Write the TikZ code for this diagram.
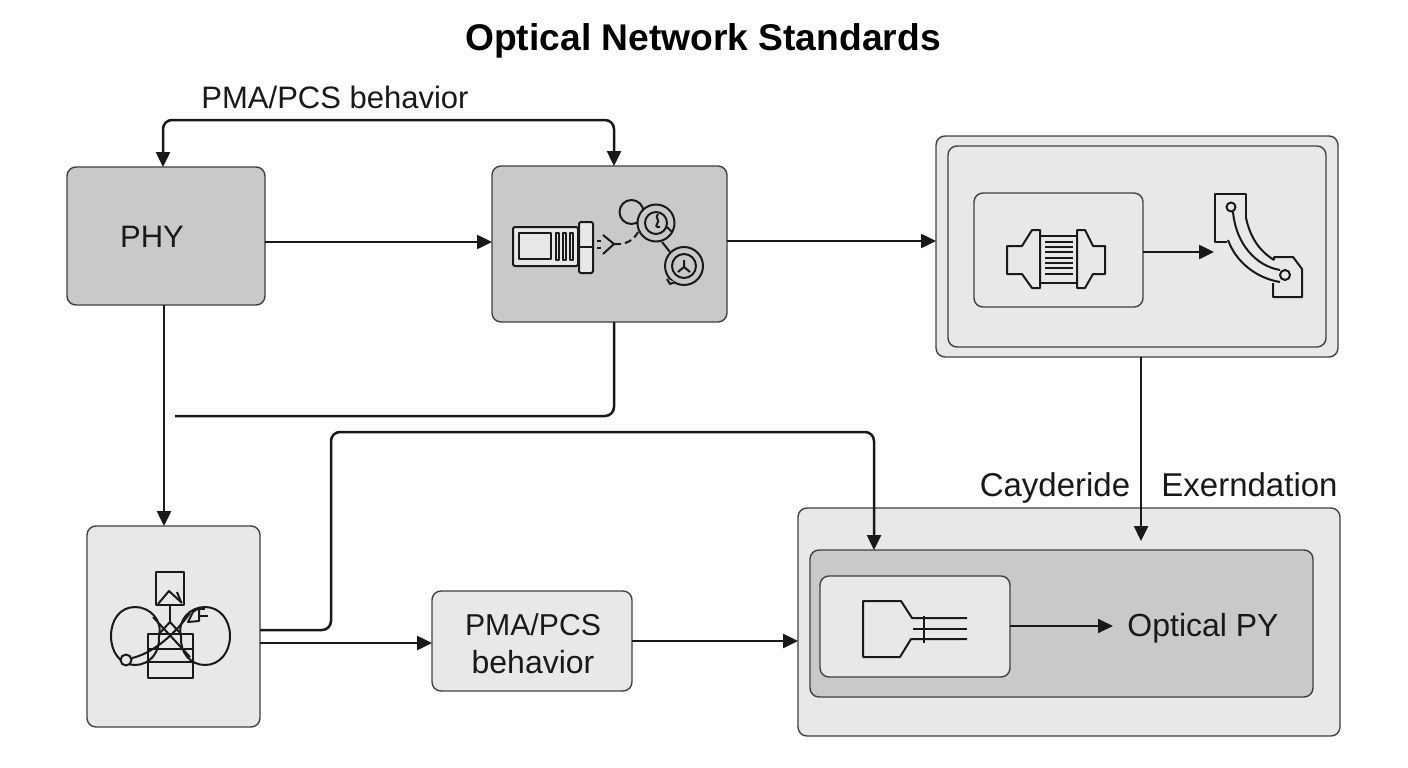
\documentclass[tikz,border=0pt]{standalone}
\usepackage{fontspec}
\setmainfont{Liberation Sans}
\usetikzlibrary{arrows.meta}
\tikzset{
  x=1pt,y=-1pt,
  box/.style={draw=black!75,line width=1.4pt,rounded corners=9pt,inner sep=0pt,outer sep=0pt,anchor=north west},
  darkbox/.style={box,fill=black!21},
  lightbox/.style={box,fill=black!9},
  conn/.style={draw=black!90,line width=2.5pt,rounded corners=9pt,-{Triangle[length=15pt,width=14pt]}},
  bothconn/.style={conn,{Triangle[length=15pt,width=14pt]}-{Triangle[length=15pt,width=14pt]}},
  plain/.style={draw=black!90,line width=2.5pt,rounded corners=9pt},
  ico/.style={draw=black!90,line width=2pt,line join=round},
  lab/.style={font=\fontsize{31}{35}\selectfont,inner sep=0pt,text=black!90,anchor=base},
}
\newcommand{\bx}[6]{\node[#1,minimum width=#4pt,minimum height=#5pt] (#6) at (#2,#3) {};}
\begin{document}
\begin{tikzpicture}
\useasboundingbox (0,0) rectangle (1408,768);
\node[font=\bfseries\fontsize{37.2}{40}\selectfont,inner sep=0pt,anchor=base] (title) at (703,51) {Optical Network Standards};
\bx{darkbox}{67}{167}{198}{138}{phy}
\bx{darkbox}{492}{166}{235}{156}{gear}
\bx{lightbox}{936}{136}{402}{221}{ro}
\bx{lightbox}{948}{146}{378}{201}{ri}
\bx{lightbox}{974}{193}{169}{114}{rs}
\bx{lightbox}{87}{526}{173}{201}{bl}
\bx{lightbox}{432}{591}{200}{100}{pma}
\bx{lightbox}{798}{508}{542}{228}{bo}
\bx{darkbox}{810}{550}{503}{147}{bi}
\bx{lightbox}{820}{576}{190}{101}{bs}
\node[lab] (phyt) at (152,247) {PHY};
\node[lab] (toplab) at (335,108) {PMA/PCS behavior};
\node[lab,font=\fontsize{30.2}{35}\selectfont] (pmat) at (533,635) {PMA/PCS};
\node[lab,font=\fontsize{32}{35}\selectfont] (pmat2) at (533,673) {behavior};
\node[lab,font=\fontsize{33}{35}\selectfont] (cay) at (1055,496) {Cayderide};
\node[lab,font=\fontsize{33}{35}\selectfont] (exe) at (1249.5,496) {Exerndation};
\node[lab,font=\fontsize{32}{35}\selectfont] (opt) at (1203,636) {Optical PY};
\coordinate (free) at (175,416);
\coordinate (curvein) at (1214,252);
\coordinate (optin) at (1113,626);
\coordinate (biin) at (1141,541);
% connectors
\draw[bothconn] (phy.north -| 163,0) -- (163,120) -- (614,120) -- (gear.north -| 614,0);
\draw[conn] (phy.east |- 0,242) -- (gear.west |- 0,242);
\draw[conn] (gear.east |- 0,241) -- (ro.west |- 0,241);
\draw[conn] (phy.south -| 164,0) -- (bl.north -| 164,0);
\draw[plain] (gear.south -| 614,0) -- (614,416) -- (free);
\draw[conn] (bl.east |- 0,630) -- (331,630) -- (331,432) -- (874,432) -- (874,550);
\draw[conn] (bl.east |- 0,643) -- (pma.west |- 0,643);
\draw[conn] (pma.east |- 0,641) -- (bo.west |- 0,641);
\draw[conn] (ro.south -| 1141,0) -- (biin);
\draw[conn,line width=1.8pt] (bs.east |- 0,626) -- (optin);
\draw[conn] (rs.east |- 0,252) -- (curvein);
% gear icon
\draw[ico,rounded corners=2pt,fill=black!9] (513,227) rectangle (578,266);
\draw[ico,fill=black!9] (519,233) rectangle (551,259);
\foreach \xa in {556,563,570} \draw[ico,fill=black!9] (\xa,233) rectangle (\xa+2.5,260);
\draw[ico,rounded corners=2pt,fill=black!9] (579,222) rectangle (593,273);
\draw[ico] (579,247) -- (593,247);
\draw[ico] (597,241) -- (601,241) (597,248) -- (601,248);
\draw[ico] (603,235) -- (614,244) -- (603,254);
\draw[ico,dash pattern=on 7pt off 4pt] (614,244) .. controls (626,245) and (634,240) .. (638,232);
\draw[ico] (631.5,212) circle (12);
\draw[ico,fill=black!21] (656,223) circle (18.5);
\draw[ico] (656,223) circle (11);
\draw[ico] (658,214) .. controls (654,218) and (661,220) .. (657,224) .. controls (655,227) and (657,227) .. (660,227);
\draw[ico] (662,242) -- (670,252);
\draw[ico] (667,227) -- (672,232);
\draw[ico,fill=black!21] (684,266) circle (19);
\draw[ico] (684,266) circle (12);
\draw[ico] (684,267) -- (684,260) (684,267) -- (678,272) (684,267) -- (690,272);
\draw[ico,fill=black!21] (667,279) -- (670,284) -- (675,282);
% connector icon
\draw[ico] (1040,230) -- (1032,230) -- (1022,246) -- (1007,246) -- (1007,274) -- (1022,274) -- (1032,288) -- (1040,288) -- cycle;
\draw[ico] (1077,230) -- (1085,230) -- (1093,246) -- (1105,246) -- (1105,274) -- (1093,274) -- (1085,288) -- (1077,288) -- cycle;
\draw[ico] (1040,236) -- (1077,236) (1040,283) -- (1077,283);
\foreach \ya in {242,247,252,258,263,268,274} \draw[ico] (1045,\ya) -- (1073,\ya);
% curved icon
\draw[ico] (1274,260) -- (1274,257) -- (1293,257) -- (1302,269) -- (1302,297) -- (1273,297) -- (1273,283);
\draw[ico] (1227,242) -- (1215,242) -- (1215,194) -- (1246,194) -- (1246,218);
\draw[ico] (1228,240) .. controls (1236,262) and (1256,278) .. (1280,282);
\draw[ico] (1246,218) .. controls (1250,236) and (1258,250) .. (1274,260);
\draw[ico] (1233,212) .. controls (1236,244) and (1256,266) .. (1280,270);
\draw[ico,fill=black!9] (1231,207) circle (4.5);
\draw[ico,fill=black!9] (1285,275) circle (5);
% bottom-left icon
\draw[ico] (156,572) rectangle (184,605);
\draw[ico] (158,604) -- (169,591) -- (182,603);
\draw[ico] (177,592) -- (181,602);
\draw[ico] (170,605) -- (170,622);
\draw[ico] (148,634) rectangle (193,678);
\draw[ico] (148,649) -- (193,649) (148,662) -- (193,662);
\draw[ico] (170,622) -- (158,635) (170,622) -- (182,635);
\draw[ico] (153,617) -- (190,657);
\draw[ico] (159,637) .. controls (163,620) and (150,607) .. (135,607) .. controls (120,607) and (111,620) .. (111,636) .. controls (111,652) and (120,665) .. (135,665) .. controls (150,665) and (160,652) .. (159,637);
\draw[ico] (181,637) .. controls (177,620) and (190,607) .. (205,607) .. controls (220,607) and (230,620) .. (230,636) .. controls (230,652) and (220,665) .. (205,665) .. controls (190,665) and (180,652) .. (181,637);
\draw[ico] (132,658) .. controls (150,654) and (172,638) .. (190,613);
\draw[ico,fill=black!9] (126,660) circle (5.5);
\draw[ico,fill=black!9] (188,622) -- (193,612) -- (197,609) -- (199,610) -- (199,621) -- cycle;
\draw[ico] (198,609) -- (205,609) (200,616) -- (208,616);
% fiber icon
\draw[ico] (967,618) -- (912,618) -- (901,601) -- (863,601) -- (863,657) -- (900,657) -- (911,639) -- (967,639);
\draw[ico] (913,629) -- (967,629);
\draw[ico] (924,616) -- (924,643);
\end{tikzpicture}
\end{document}
